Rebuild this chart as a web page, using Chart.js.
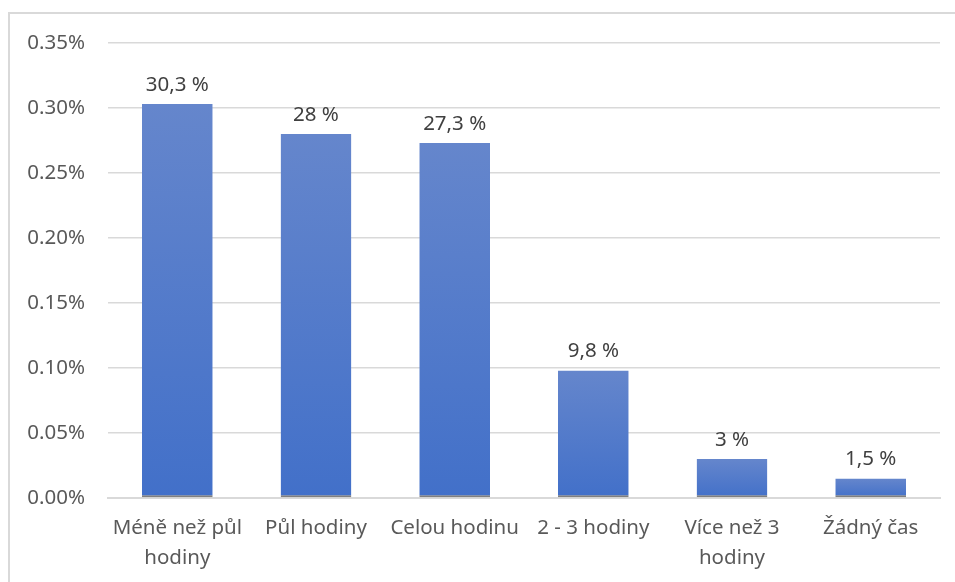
<!DOCTYPE html>
<html>
<head>
<meta charset="utf-8">
<script src="https://cdn.jsdelivr.net/npm/chart.js@4"></script>
<style>
  html, body { margin: 0; padding: 0; background: #fff; }
  #wrap { width: 955px; height: 582px; position: relative; }
</style>
</head>
<body>
<div id="wrap"><canvas id="c" width="955" height="582"></canvas></div>
<script>
const categories = [["Méně než půl", "hodiny"], "Půl hodiny", "Celou hodinu", "2 - 3 hodiny", ["Více než 3", "hodiny"], "Žádný čas"];
const values = [0.303, 0.28, 0.273, 0.098, 0.03, 0.015];
const yTicks = [0, 0.05, 0.10, 0.15, 0.20, 0.25, 0.30, 0.35];

const FONT = "'Noto Sans', 'Open Sans', sans-serif";
const FSIZE = 20.5;

const frame = {
  id: 'frame',
  beforeDraw(chart) {
    const ctx = chart.ctx;
    ctx.save();
    ctx.strokeStyle = '#d9d9d9';
    ctx.lineWidth = 2;
    ctx.beginPath();
    ctx.moveTo(9, 600);
    ctx.lineTo(9, 13);
    ctx.lineTo(1000, 13);
    ctx.stroke();
    ctx.restore();
  }
};

const barLabels = {
  id: 'barLabels',
  afterDatasetsDraw(chart) {
    const ctx = chart.ctx;
    const meta = chart.getDatasetMeta(0);
    ctx.save();
    ctx.font = FSIZE + 'px ' + FONT;
    ctx.fillStyle = '#404040';
    ctx.textAlign = 'center';
    ctx.textBaseline = 'bottom';
    meta.data.forEach((bar, i) => {
      const v = Math.round(values[i] * 1000) / 10;
      const txt = String(v).replace('.', ',') + ' %';
      ctx.fillText(txt, bar.x, bar.y - 9);
    });
    ctx.restore();
  }
};

new Chart(document.getElementById('c'), {
  type: 'bar',
  data: {
    labels: categories,
    datasets: [{
      data: values,
      backgroundColor: (c) => {
        const chart = c.chart;
        const { chartArea, scales } = chart;
        if (!chartArea || !scales.y || c.raw === undefined) return '#4f79c8';
        const top = scales.y.getPixelForValue(c.raw);
        const base = scales.y.getPixelForValue(0);
        if (!isFinite(top) || !isFinite(base) || base - top < 1) return '#4f79c8';
        const g = chart.ctx.createLinearGradient(0, top, 0, base);
        g.addColorStop(0, '#6586cc');
        g.addColorStop(1, '#4270c9');
        return g;
      },
      borderColor: '#7f7f7f',
      borderWidth: { top: 0, left: 0, right: 0, bottom: 2 },
      borderSkipped: false,
      categoryPercentage: 1,
      barPercentage: 0.51
    }]
  },
  options: {
    responsive: false,
    animation: false,
    devicePixelRatio: 1,
    layout: { padding: { left: 20, right: 15, top: 43, bottom: 0 } },
    plugins: { legend: { display: false }, tooltip: { enabled: false } },
    scales: {
      x: {
        grid: { display: false, drawTicks: false },
        border: { display: true, color: '#d9d9d9', width: 2 },
        ticks: { color: '#595959', font: { family: FONT, size: FSIZE, lineHeight: 1.42 }, padding: 16, maxRotation: 0, autoSkip: false },
        afterFit: (s) => { s.height = 84; }
      },
      y: {
        min: 0, max: 0.35,
        afterBuildTicks: (s) => { s.ticks = yTicks.map(v => ({ value: v })); },
        grid: { color: '#d9d9d9', lineWidth: 1.5, drawTicks: false },
        border: { display: false },
        ticks: {
          color: '#595959',
          font: { family: FONT, size: FSIZE },
          padding: 23,
          callback: (v) => Number(v).toFixed(2) + '%'
        },
        afterFit: (s) => { s.width = 88; }
      }
    }
  },
  plugins: [frame, barLabels]
});
</script>
</body>
</html>
